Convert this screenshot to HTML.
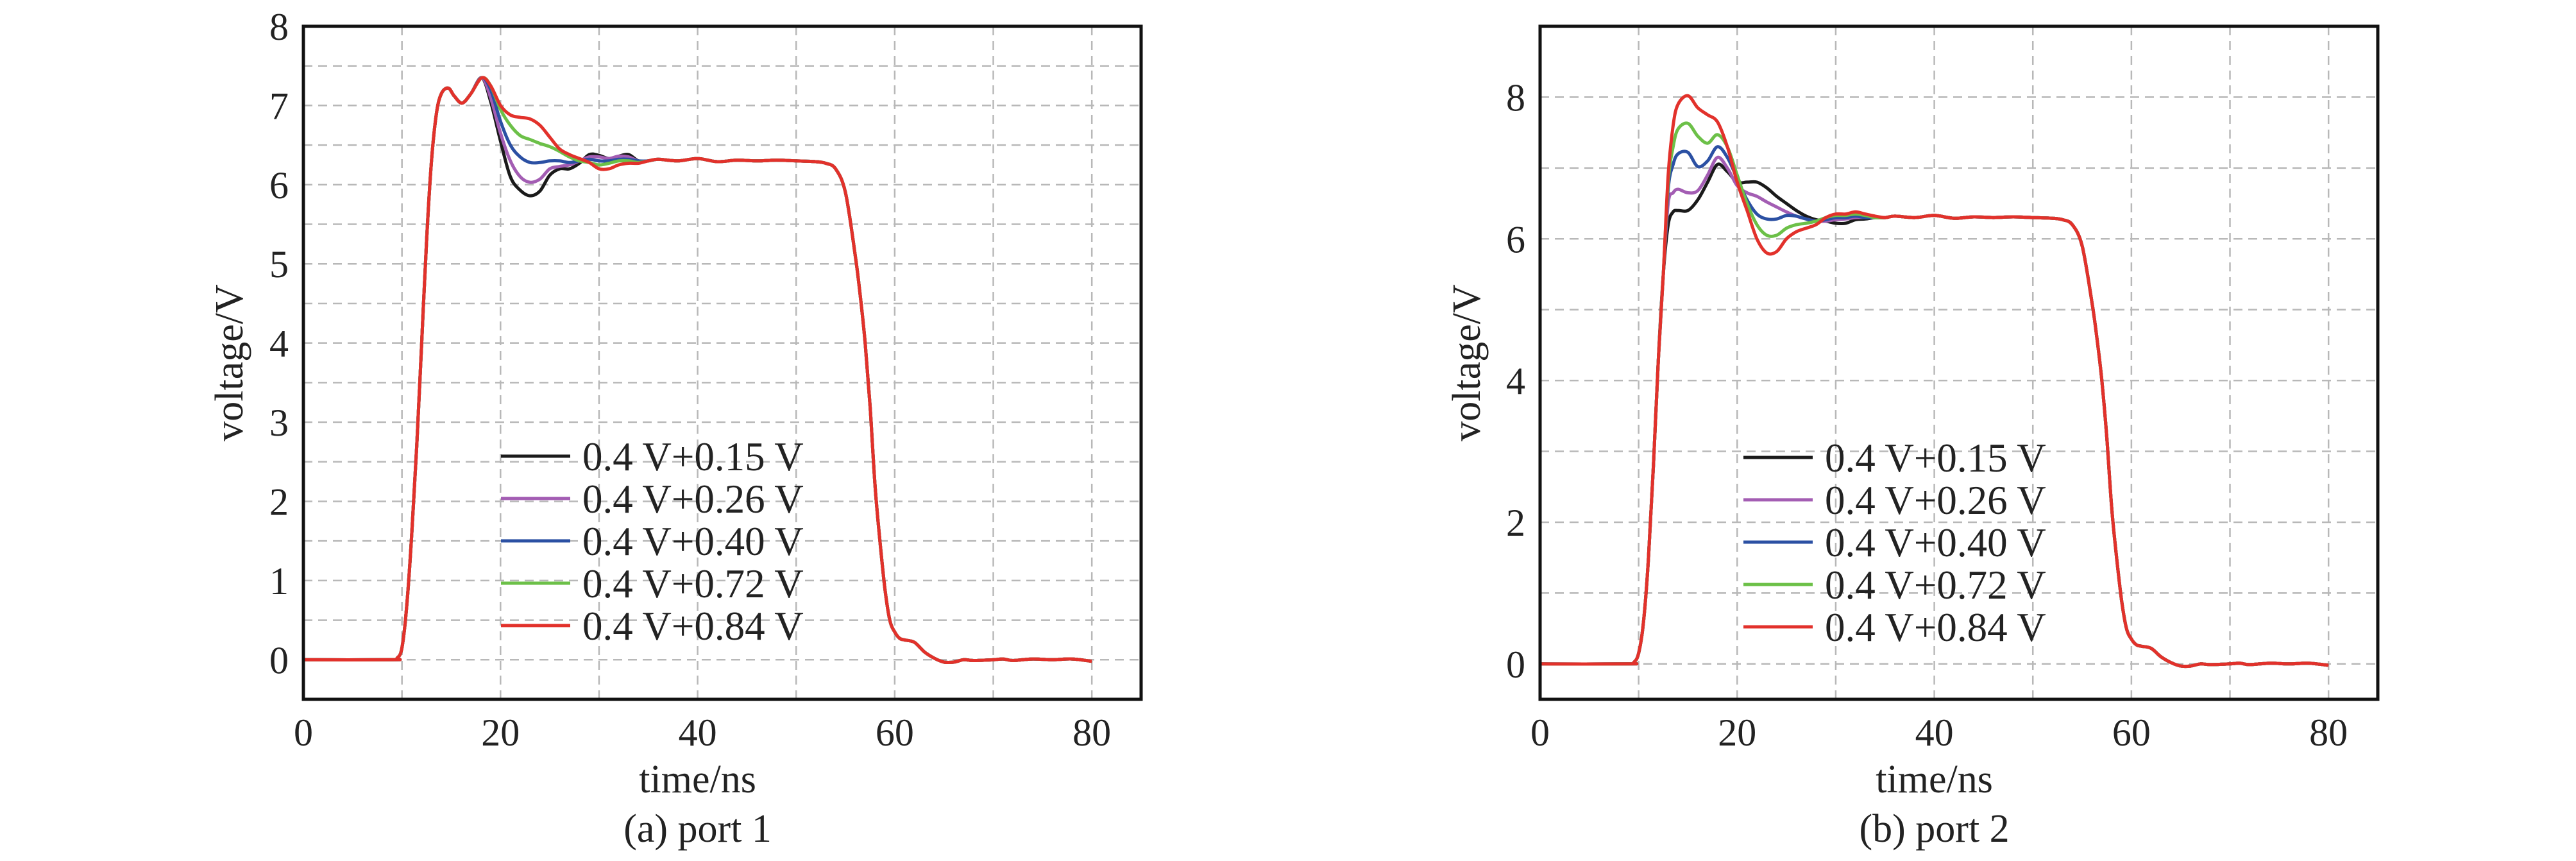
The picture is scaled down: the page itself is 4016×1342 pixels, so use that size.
<!DOCTYPE html>
<html><head><meta charset="utf-8">
<style>
html,body{margin:0;padding:0;background:#fff;}
svg{display:block;font-family:"Liberation Serif",serif;}
</style></head>
<body>
<svg id="fig" width="4016" height="1342" viewBox="0 0 4016 1342" xmlns="http://www.w3.org/2000/svg"></svg>
<script>
// ---------- data ----------
const seriesLabels = ["0.4 V+0.15 V","0.4 V+0.26 V","0.4 V+0.40 V","0.4 V+0.72 V","0.4 V+0.84 V"];
const seriesColors = ["#1a1a1a","#a35db3","#2b50a3","#6cc048","#e2312b"];
const xTicks = [0,20,40,60,80];
const y1Ticks = [0,1,2,3,4,5,6,7,8];
const y2Ticks = [0,2,4,6,8];

// port 1
const p1RiseT = [0,9,9.5,10,10.5,11,11.5,12,12.5,13,13.5,14,14.7,15.3,16.1,17,18.1];
const p1RiseV = [0,0,0.02,0.15,0.7,1.6,2.7,4.0,5.3,6.3,6.9,7.15,7.22,7.12,7.03,7.15,7.35];
const p1MidT = [19,20,21,22,23,24,25,26,27,28,29,30,31,32,33,34];
const p1Black  = [7.05,6.55,6.1,5.93,5.86,5.92,6.12,6.2,6.2,6.27,6.38,6.37,6.33,6.36,6.38,6.3];
const p1Purple = [7.1,6.65,6.3,6.1,6.03,6.07,6.2,6.23,6.25,6.3,6.35,6.35,6.33,6.36,6.35,6.3];
const p1Blue   = [7.2,6.8,6.5,6.35,6.28,6.28,6.3,6.3,6.28,6.3,6.32,6.3,6.3,6.32,6.32,6.3];
const p1Green  = [7.25,6.95,6.75,6.62,6.57,6.52,6.48,6.42,6.35,6.3,6.28,6.25,6.27,6.3,6.3,6.28];
const p1Red    = [7.25,7.0,6.88,6.85,6.83,6.75,6.6,6.45,6.38,6.33,6.28,6.2,6.2,6.25,6.27,6.27];

// port 2
const p2RiseT = [0,9,9.5,10,10.5,11,11.5,12,12.5];
const p2RiseV = [0,0,0.02,0.15,0.6,1.5,2.8,4.3,5.5];
const p2MidT = [13,13.5,14,15,16,17,18,19,20,21,22,23,24,25,26,27,28,29,30,31,32,33,34];
const p2Black  = [6.2,6.38,6.4,6.4,6.55,6.8,7.05,6.95,6.8,6.8,6.8,6.72,6.6,6.5,6.4,6.32,6.27,6.25,6.22,6.22,6.27,6.28,6.3];
const p2Purple = [6.5,6.65,6.7,6.65,6.68,6.9,7.15,7.0,6.75,6.65,6.6,6.52,6.45,6.38,6.32,6.28,6.25,6.25,6.27,6.28,6.3,6.3,6.3];
const p2Blue   = [6.7,7.05,7.2,7.22,7.02,7.1,7.3,7.15,6.85,6.55,6.35,6.28,6.28,6.33,6.32,6.28,6.25,6.27,6.3,6.3,6.32,6.3,6.3];
const p2Green  = [6.8,7.3,7.55,7.63,7.45,7.35,7.47,7.3,6.9,6.5,6.2,6.05,6.05,6.15,6.2,6.22,6.25,6.3,6.33,6.33,6.35,6.33,6.3];
const p2Red    = [6.9,7.6,7.9,8.02,7.85,7.75,7.65,7.3,6.8,6.4,6.0,5.8,5.82,6.0,6.1,6.15,6.2,6.3,6.35,6.35,6.38,6.35,6.32];

// shared tail
const tailT = [35,36,38,40,42,44,46,48,50,52,53,54,55,56,56.5,57,57.5,58,58.5,59,59.5,60,60.5,61,62,63,64,65,66,67,68,70,71,72,74,76,78,80];
const tailV = [6.3,6.32,6.3,6.33,6.29,6.31,6.3,6.31,6.3,6.29,6.27,6.2,5.9,5.1,4.6,4.0,3.2,2.2,1.5,0.9,0.5,0.35,0.27,0.25,0.22,0.1,0.02,-0.03,-0.03,0,-0.01,0,0.01,-0.01,0.01,0,0.01,-0.02];

// ---------- drawing ----------
const NS="http://www.w3.org/2000/svg";
const svg=document.getElementById('fig');
function mk(tag,attrs,parent){const e=document.createElementNS(NS,tag);for(const k in attrs)e.setAttribute(k,attrs[k]);(parent||svg).appendChild(e);return e;}

function spline(pts){
  let d="M"+pts[0][0].toFixed(1)+","+pts[0][1].toFixed(1);
  for(let i=0;i<pts.length-1;i++){
    const p0=pts[Math.max(0,i-1)],p1=pts[i],p2=pts[i+1],p3=pts[Math.min(pts.length-1,i+2)];
    const c1x=p1[0]+(p2[0]-p0[0])/6,c1y=p1[1]+(p2[1]-p0[1])/6;
    const c2x=p2[0]-(p3[0]-p1[0])/6,c2y=p2[1]-(p3[1]-p1[1])/6;
    d+="C"+c1x.toFixed(1)+","+c1y.toFixed(1)+" "+c2x.toFixed(1)+","+c2y.toFixed(1)+" "+p2[0].toFixed(1)+","+p2[1].toFixed(1);
  }
  return d;
}

function chart(cfg){
  const g=mk('g',{});
  
  
  const L=cfg.left,R=cfg.right,T=cfg.top,B=cfg.bottom;
  const xs=v=>L+(v-0)/(85-0)*(R-L);
  const ys=v=>B-(v-cfg.ymin)/(cfg.ymax-cfg.ymin)*(B-T);
  // grid
  const grid=mk('g',{},g);
  
  
  for(let x=10;x<85;x+=10){
    const ln=mk('line',{x1:xs(x),x2:xs(x),y1:T,y2:B,stroke:"#b8b8b8","stroke-width":2.5,"stroke-dasharray":"14 9"},grid);
    
    
  }
  for(let y=cfg.gridStep;y<cfg.ymax;y=+(y+cfg.gridStep).toFixed(3)){
    if(y<=cfg.ymin)continue;
    const ln=mk('line',{x1:L,x2:R,y1:ys(y),y2:ys(y),stroke:"#b8b8b8","stroke-width":2.5,"stroke-dasharray":"14 9"},grid);
    
    
  }
  const y0=mk('line',{x1:L,x2:R,y1:ys(0),y2:ys(0),stroke:"#b8b8b8","stroke-width":2.5,"stroke-dasharray":"14 9"},grid);
  
  
  // series
  cfg.series.forEach((vals,i)=>{
    const t=cfg.riseT.concat(cfg.midT,tailT);
    const v=cfg.riseV.concat(vals,tailV);
    const pts=t.map((tt,j)=>[xs(tt),ys(v[j])]);
    const p=mk('path',{d:spline(pts),fill:"none",stroke:seriesColors[i],"stroke-width":5,"stroke-linejoin":"round"},g);
    
    
  });
  // frame
  const fr=mk('rect',{x:L,y:T,width:R-L,height:B-T,fill:"none",stroke:"#111","stroke-width":5},g);
  
  
  // ticks
  xTicks.forEach(v=>{
    const tk=mk('text',{x:xs(v),y:B+72,"text-anchor":"middle","font-size":60,fill:"#222"},g);
    tk.textContent=v;
    
    
  });
  cfg.yTicks.forEach(v=>{
    const tk=mk('text',{x:cfg.yLabelX,y:ys(v)+21,"text-anchor":"end","font-size":60,fill:"#222"},g);
    tk.textContent=v;
    
    
  });
  const xt=mk('text',{x:(xs(0)+xs(80))/2,y:B+145,"text-anchor":"middle","font-size":62,fill:"#222"},g);
  xt.textContent="time/ns";
  
  
  const cap=mk('text',{x:(xs(0)+xs(80))/2,y:B+222,"text-anchor":"middle","font-size":62,fill:"#222"},g);
  cap.textContent=cfg.caption;
  
  
  const yt=mk('text',{x:0,y:0,"text-anchor":"middle","font-size":62,fill:"#222",transform:"translate("+cfg.yTitleX+","+((T+B)/2)+") rotate(-90)"},g);
  yt.textContent="voltage/V";
  
  
  // legend
  const lg=mk('g',{},g);
  
  
  seriesLabels.forEach((lab,i)=>{
    const yy=cfg.legY+i*66;
    const ln=mk('line',{x1:cfg.legX,x2:cfg.legX+108,y1:yy,y2:yy,stroke:seriesColors[i],"stroke-width":5},lg);
    
    
    const tx=mk('text',{x:cfg.legX+127,y:yy+22,"font-size":63,fill:"#222"},lg);
    tx.textContent=lab;
    
    
  });
}

chart({name:'chart-port-1',left:473,right:1779,top:41,bottom:1090,ymin:-0.5,ymax:8,gridStep:0.5,
  yTicks:y1Ticks,yLabelX:450,yTitleX:378,caption:"(a) port 1",legX:781,legY:711,
  riseT:p1RiseT,riseV:p1RiseV,midT:p1MidT,series:[p1Black,p1Purple,p1Blue,p1Green,p1Red]});
chart({name:'chart-port-2',left:2401,right:3707,top:41,bottom:1090,ymin:-0.5,ymax:9,gridStep:1,
  yTicks:y2Ticks,yLabelX:2378,yTitleX:2307,caption:"(b) port 2",legX:2718,legY:713,
  riseT:p2RiseT,riseV:p2RiseV,midT:p2MidT,series:[p2Black,p2Purple,p2Blue,p2Green,p2Red]});
</script>
</body></html>
